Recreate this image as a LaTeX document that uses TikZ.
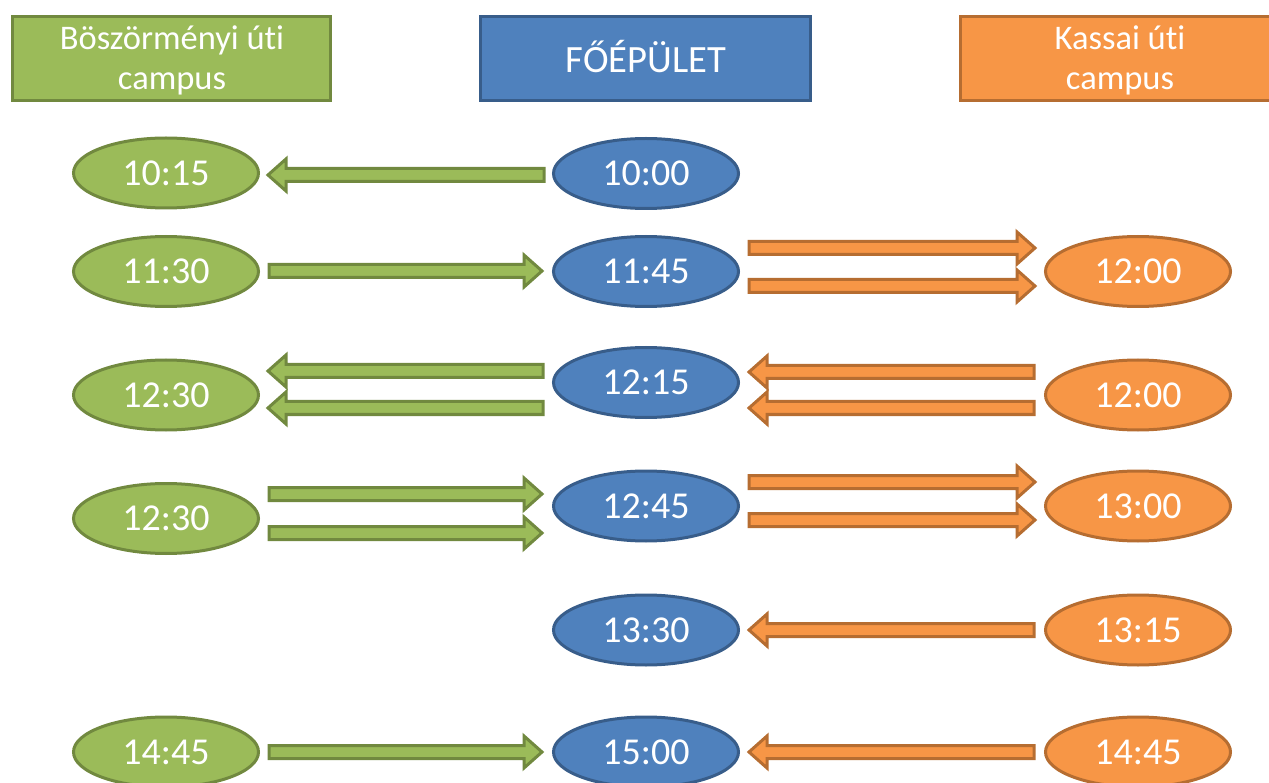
\documentclass[tikz,border=0pt]{standalone}
\usepackage{fontspec}
\setmainfont{Carlito}[Ligatures=NoCommon]
\usetikzlibrary{shapes.geometric}
\definecolor{gfill}{HTML}{9BBB59}
\definecolor{gline}{HTML}{71893F}
\definecolor{bfill}{HTML}{4F81BD}
\definecolor{bline}{HTML}{385D8A}
\definecolor{ofill}{HTML}{F79646}
\definecolor{oline}{HTML}{B66D31}
\newcommand\rarr[4]{% tail x, tip x, y, style
  \filldraw[#4] (#1,#3-6.5) -- (#2-18,#3-6.5) -- (#2-18,#3-16) -- (#2,#3) -- (#2-18,#3+16) -- (#2-18,#3+6.5) -- (#1,#3+6.5) -- cycle;}
\newcommand\larr[4]{% tip x, tail x, y, style
  \filldraw[#4] (#2,#3-6.5) -- (#1+18,#3-6.5) -- (#1+18,#3-16) -- (#1,#3) -- (#1+18,#3+16) -- (#1+18,#3+6.5) -- (#2,#3+6.5) -- cycle;}
\tikzset{
  hdr/.style={rectangle, line width=3pt, inner sep=0pt, minimum height=84pt},
  tm/.style={ellipse, line width=3pt, inner sep=0pt, minimum width=185pt, minimum height=70pt, text=white, font=\fontsize{38}{38}\selectfont},
  gnode/.style={tm, fill=gfill, draw=gline},
  bnode/.style={tm, fill=bfill, draw=bline},
  onode/.style={tm, fill=ofill, draw=oline},
  garr/.style={fill=gfill, draw=gline, line width=3pt},
  oarr/.style={fill=ofill, draw=oline, line width=3pt},
  htxt/.style={anchor=base, inner sep=0pt, text=white, font=\fontsize{34.5}{39}\selectfont},
}
\begin{document}
\begin{tikzpicture}[x=1pt,y=-1pt]
\useasboundingbox (0,0) rectangle (1269,783);
\clip (0,0) rectangle (1269,783);
% headers
\node[hdr, fill=gfill, draw=gline, minimum width=318pt] (hg) at (171.5,58.5) {};
\node[htxt] (hg1) at (172,50) {Böszörményi úti};
\node[htxt] (hg2) at (172,89.3) {campus};
\node[hdr, fill=bfill, draw=bline, minimum width=330pt] (hb) at (645.5,58.5) {};
\node[htxt, font=\fontsize{38.6}{40}\selectfont] (hb1) at (646,73) {FŐÉPÜLET};
\node[hdr, fill=ofill, draw=oline, minimum width=318pt] (ho) at (1119.5,58.5) {};
\node[htxt] (ho1) at (1120,50) {Kassai úti};
\node[htxt] (ho2) at (1120,89.3) {campus};
% row 1
\node[gnode] (g1) at (166,173) {10:15};
\node[bnode] (b1) at (646,173.5) {10:00};
\larr{268}{544}{175}{garr}
% row 2
\node[gnode] (g2) at (166,271.5) {11:30};
\node[bnode] (b2) at (646,271.5) {11:45};
\node[onode] (o2) at (1138,271.5) {12:00};
\rarr{269}{542}{271}{garr}
\rarr{749}{1035}{248}{oarr}
\rarr{749}{1035}{286}{oarr}
% row 3
\node[gnode] (g3) at (166,395) {12:30};
\node[bnode] (b3) at (646,382.5) {12:15};
\node[onode] (o3) at (1138,395) {12:00};
\larr{268}{543}{371}{garr}
\larr{268}{543}{408}{garr}
\larr{749}{1034}{372}{oarr}
\larr{749}{1034}{408}{oarr}
% row 4
\node[gnode] (g4) at (166,518.5) {12:30};
\node[bnode] (b4) at (646,506) {12:45};
\node[onode] (o4) at (1138,506) {13:00};
\rarr{269}{542}{494}{garr}
\rarr{269}{542}{533}{garr}
\rarr{749}{1035}{482}{oarr}
\rarr{749}{1035}{520}{oarr}
% row 5
\node[bnode] (b5) at (646,630) {13:30};
\node[onode] (o5) at (1138,630) {13:15};
\larr{749}{1034}{630}{oarr}
% row 6
\node[gnode] (g6) at (166,752) {14:45};
\node[bnode] (b6) at (646,752) {15:00};
\node[onode] (o6) at (1138,752) {14:45};
\rarr{269}{542}{752}{garr}
\larr{749}{1034}{752}{oarr}
\end{tikzpicture}
\end{document}
